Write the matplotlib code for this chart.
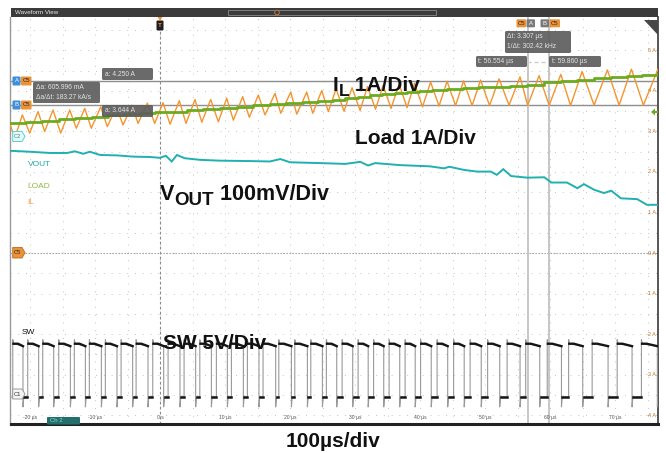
import numpy as np
import matplotlib.pyplot as plt
from matplotlib.patches import Rectangle, FancyBboxPatch, Polygon, Circle
from matplotlib.transforms import IdentityTransform

plt.rcParams['font.family'] = ['Liberation Sans', 'DejaVu Sans']

# ---- data read off the scope capture (time in us) ----
# inductor current: valleys and peaks of the triangle (A)
il_valley_t = [-22.35, -20.05, -17.74, -15.28, -12.88, -10.57, -8.11, -5.69, -3.38, -0.82,
               1.54, 4.00, 6.42, 8.97, 11.28, 13.74, 16.15, 18.57, 21.03, 23.49, 25.89,
               28.31, 30.77, 33.15, 35.54, 38.00, 40.38, 42.92, 45.46, 48.00, 50.69, 53.69,
               56.55, 59.86, 63.15, 66.77, 70.62, 74.35]
il_valley_a = [2.83, 2.96, 3.00, 2.96, 3.08, 3.08, 3.12, 3.16, 3.20, 3.20,
               3.18, 3.20, 3.23, 3.24, 3.28, 3.35, 3.41, 3.45, 3.43, 3.45, 3.49,
               3.50, 3.52, 3.55, 3.57, 3.59, 3.61, 3.63, 3.64, 3.64, 3.64, 3.65,
               3.645, 3.645, 3.64, 3.65, 3.65, 3.65]
il_peak_t = [-21.18, -18.77, -16.46, -13.89, -11.58, -9.12, -6.72, -4.31, -1.95, 0.46,
             2.97, 5.38, 7.80, 10.26, 12.72, 15.12, 17.69, 20.11, 22.57, 24.88,
             27.08, 29.54, 31.92, 34.31, 36.77, 39.15, 41.62, 44.15, 46.69, 49.31,
             52.15, 55.38, 58.31, 61.65, 64.92, 68.82, 72.51, 76.6]
il_peak_a = [3.41, 3.49, 3.53, 3.53, 3.57, 3.61, 3.61, 3.65, 3.70, 3.71,
             3.76, 3.79, 3.79, 3.82, 3.86, 3.90, 3.94, 3.97, 3.97, 4.01,
             4.05, 4.08, 4.11, 4.14, 4.17, 4.19, 4.22, 4.24, 4.25, 4.27,
             4.30, 4.35, 4.38, 4.41, 4.48, 4.52, 4.54, 4.54]
il_start = (-23.0, 3.15)

# load current staircase (A)
load_t = [-23.0, -20.6, -18.2, -15.6, -13.1, -10.5, -8.0, -5.5, -3.1, -0.7, 1.7, 4.1, 6.6,
          9.2, 11.8, 14.3, 16.9, 19.4, 22.0, 24.3, 26.6, 28.5, 30.5, 32.3, 34.2, 36.1,
          38.0, 39.9, 41.8, 44.2, 46.6, 49.0, 51.4, 53.9, 56.5, 59.1, 61.7, 64.2, 66.8,
          69.3, 71.8, 74.2, 76.6]
load_a = [3.20, 3.23, 3.26, 3.30, 3.33, 3.37, 3.41, 3.43, 3.45, 3.47, 3.49, 3.52, 3.55,
          3.58, 3.61, 3.65, 3.68, 3.71, 3.73, 3.76, 3.79, 3.83, 3.86, 3.89, 3.92, 3.95,
          3.97, 4.00, 4.02, 4.05, 4.07, 4.09, 4.11, 4.13, 4.16, 4.21, 4.25, 4.28, 4.31,
          4.35, 4.38, 4.40, 4.41]

# output voltage deviation (mV)
vout_t = [-23.0, -22.6, -20.0, -16.9, -14.3, -13.1, -11.8, -10.8, -9.2, -6.6, -4.2, -1.5,
          0.0, 0.9, 1.8, 2.6, 3.8, 6.2, 9.2, 13.8, 16.9, 18.5, 20.0, 24.6, 28.5, 30.8,
          32.0, 33.1, 36.9, 41.5, 43.7, 44.5, 46.8, 48.8, 50.9, 51.8, 52.8, 54.0, 56.5,
          59.1, 60.2, 62.6, 64.2, 65.2, 66.8, 68.3, 69.4, 70.9, 73.4, 74.9, 76.6]
vout_mv = [0, 0, -2, -5, -5, -1, -7, -2, -10, -11, -14, -15,
           -17, -12, -26, -10, -18, -22, -24, -25, -26, -20, -28, -30, -32, -27,
           -36, -30, -35, -38, -43, -39, -47, -51, -51, -59, -45, -62, -66,
           -65, -78, -78, -92, -82, -96, -104, -98, -117, -119, -133, -133]

# switch node edges (us) and levels (V)
sw_rise = [-22.65, -20.35, -18.04, -15.58, -13.18, -10.87, -8.41, -5.99, -3.68, -1.12,
           1.24, 3.70, 6.12, 8.67, 10.98, 13.44, 15.85, 18.27, 20.73, 23.19, 25.59,
           28.01, 30.47, 32.85, 35.24, 37.70, 40.08, 42.62, 45.16, 47.70, 50.39, 53.39,
           56.25, 59.56, 62.85, 66.47, 70.32, 74.05]
sw_fall = [-21.08, -18.67, -16.36, -13.79, -11.48, -9.02, -6.62, -4.21, -1.85, 0.56,
           3.07, 5.48, 7.90, 10.36, 12.82, 15.22, 17.79, 20.21, 22.67, 24.98,
           27.18, 29.64, 32.02, 34.41, 36.87, 39.25, 41.72, 44.25, 46.79, 49.41,
           52.25, 55.38, 58.41, 61.75, 65.02, 68.92, 72.61, 76.5]
sw_peak_v, sw_high_v, sw_high_end_v, sw_under_v = 7.1, 6.6, 6.3, -1.2

# scope readouts
time_ticks = [-20, -10, 0, 10, 20, 30, 40, 50, 60, 70]
time_labels = ['-20 µs', '-10 µs', '0 s', '10 µs', '20 µs', '30 µs', '40 µs', '50 µs', '60 µs', '70 µs']
amp_ticks = [5, 4, 3, 2, 1, 0, -1, -2, -3, -4]
cursor_a = [4.250, 3.644]
cursor_t = [56.554, 59.860]

W, H = 666, 453
fig = plt.figure(figsize=(W / 100, H / 100), dpi=100)

XL, XR, YT, YB = 10.5, 658, 17, 424
ax = fig.add_axes([XL / W, 1 - YB / H, (XR - XL) / W, (YB - YT) / H])
xlim = (-23.0, 76.6)
ylim = (-4.222, 5.827)   # divisions, C5 scale 1 A/div
ax.set_xlim(*xlim)
ax.set_ylim(*ylim)
ax.set_xticks(np.arange(-20, 76, 5))
ax.set_yticks(np.arange(-4, 5.9, 0.5))
ax.tick_params(length=0, labelbottom=False, labelleft=False)
ax.grid(True, color='#c4c4c4', lw=0.7, ls=(0, (1, 7)))
ax.spines['top'].set_visible(False)
ax.spines['left'].set_color('#9a9a9a')
ax.spines['left'].set_linewidth(1.0)
ax.spines['right'].set_color('#555555')
ax.spines['right'].set_linewidth(1.4)
ax.spines['bottom'].set_color('#222222')
ax.spines['bottom'].set_linewidth(2.2)

# trigger + zero reference
ax.axvline(0, color='#8a8a8a', lw=0.8, ls=(0, (2.5, 2)))
ax.axhline(0, color='#9a9a9a', lw=0.8, ls=(0, (1.2, 1.5)))
# cursors
for a in cursor_a:
    ax.axhline(a, color='#8e8e8e', lw=1.0)
for t in cursor_t:
    ax.axvline(t, color='#c2c2c2', lw=1.3)

for t, lab in zip(time_ticks, time_labels):
    ax.text(t, -4.05, lab, fontsize=3.6, color='#555555', ha='center', va='center')
for a in amp_ticks:
    ax.text(76.3, a, f'{a} A', fontsize=4.0, color='#c0762e', ha='right', va='center')


def twin(per_div, zero_div):
    tw = ax.twinx()
    tw.set_ylim((ylim[0] - zero_div) * per_div, (ylim[1] - zero_div) * per_div)
    tw.set_xlim(*xlim)
    tw.axis('off')
    return tw


# VOUT: 100 mV/div
ax_v = twin(100, 2.52)
ax_v.plot(vout_t, vout_mv, color='#20b0b0', lw=1.4, solid_joinstyle='miter')

# SW: 5 V/div
ax_sw = twin(5, -3.56)
sw_t, sw_v = [xlim[0]], [0.0]
for r, f in zip(sw_rise, sw_fall):
    sw_t += [r, r, r + 0.15, f, f, f + 0.12]
    sw_v += [0.0, sw_peak_v, sw_high_v, sw_high_end_v, sw_under_v, 0.0]
sw_t.append(xlim[1])
sw_v.append(0.0)
ax_sw.plot(sw_t, sw_v, color='#9a9a9a', lw=0.8)
for r, f in zip(sw_rise, sw_fall):
    ax_sw.plot([r + 0.1, r + 0.8, f], [sw_high_v, sw_high_v, sw_high_end_v],
               color='#151515', lw=1.7)
for f, r in zip(sw_fall[:-1], sw_rise[1:]):
    ax_sw.plot([f + 0.15, r - 0.05], [0, 0], color='#151515', lw=1.8)

# IL and LOAD on the A scale
ax_i = twin(1, 0)
il_t = [il_start[0]] + list(np.column_stack([il_valley_t, il_peak_t]).ravel())
il_a = [il_start[1]] + list(np.column_stack([il_valley_a, il_peak_a]).ravel())
ax_i.plot(il_t, il_a, color='#f3952f', lw=1.0)
ax_i.plot(load_t, load_a, color='#6cab1f', lw=2.0, drawstyle='steps-post')

# ---- screen decorations in pixel coords ----
ID = IdentityTransform()


def rbox(x0, y0, x1, y1, fc, ec='none', r=1.5, alpha=1.0, lw=0.6):
    p = FancyBboxPatch((x0, H - y1), x1 - x0, y1 - y0,
                       boxstyle=f'round,pad=0,rounding_size={r}', fc=fc, ec=ec,
                       lw=lw, alpha=alpha, transform=ID, zorder=20)
    fig.add_artist(p)


def ftext(x, y, s, **kw):
    kw.setdefault('zorder', 25)
    return fig.text(x / W, 1 - y / H, s, **kw)


def tag(x0, y0, x1, y1, fc, ec, label, tc):
    ym = (y0 + y1) / 2
    pts = [(x0, H - y0), (x1 - 3, H - y0), (x1, H - ym), (x1 - 3, H - y1), (x0, H - y1)]
    fig.add_artist(Polygon(pts, closed=True, fc=fc, ec=ec, lw=0.7, transform=ID, zorder=20))
    ftext((x0 + x1 - 3) / 2, ym, label, fontsize=4.2, color=tc, ha='center', va='center')


renderer = fig.canvas.get_renderer()


def chain(x, y, parts):
    # parts: (text, fontsize, baseline shift in px)
    for s, size, dy in parts:
        t = ftext(x, y + dy, s, fontsize=size, weight='bold', color='#111111', va='baseline')
        x = t.get_window_extent(renderer).x1


# header bar
fig.add_artist(Rectangle((XL, H - 17), XR - XL, 9, fc='#3b3b3b', ec='none', transform=ID, zorder=20))
ftext(15, 12.6, 'Waveform View', fontsize=4.5, color='#e8e8e8', va='center')
fig.add_artist(Rectangle((228, H - 15), 208, 5, fc='none', ec='#8a8a8a', lw=0.6, transform=ID, zorder=21))
fig.add_artist(Circle((277, H - 12.5), 2.3, fc='#3b3b3b', ec='#c07a3a', lw=0.7, transform=ID, zorder=22))

# magnifier corner
fig.add_artist(Polygon([(644, H - 19.5), (657.5, H - 19.5), (657.5, H - 35)], closed=True,
                       fc='#474747', ec='none', transform=ID, zorder=20))

# trigger marker
fig.add_artist(Polygon([(157.5, H - 17), (162.5, H - 17), (160, H - 20.5)], closed=True,
                       fc='#f0922f', ec='none', transform=ID, zorder=21))
rbox(156.5, 20.5, 163.5, 30.5, '#1e1e1e', r=1.2)
ftext(160, 25.7, 'T', fontsize=4.5, color='#f0922f', ha='center', va='center', weight='bold')

# horizontal cursor tags
for yc, lab in [(81, 'A'), (105, 'B')]:
    rbox(12.5, yc - 4.5, 20.5, yc + 4.5, '#3d8fdc', r=1)
    ftext(16.5, yc, lab, fontsize=4.3, color='white', ha='center', va='center')
    rbox(21, yc - 4.5, 31.5, yc + 4.5, '#ec9236', r=1)
    ftext(26.2, yc, 'C5', fontsize=4.3, color='#2a2a2a', ha='center', va='center')

# vertical cursor tags
rbox(516.5, 19.3, 526, 27.3, '#ec9236', r=1)
ftext(521.2, 23.3, 'C5', fontsize=4.3, color='#2a2a2a', ha='center', va='center')
rbox(526.5, 19.3, 535, 27.3, '#7a7a7a', r=1)
ftext(530.7, 23.3, 'A', fontsize=4.3, color='white', ha='center', va='center')
rbox(540.5, 19.3, 549, 27.3, '#7a7a7a', r=1)
ftext(544.7, 23.3, 'B', fontsize=4.3, color='white', ha='center', va='center')
rbox(549.5, 19.3, 560, 27.3, '#ec9236', r=1)
ftext(554.7, 23.3, 'C5', fontsize=4.3, color='#2a2a2a', ha='center', va='center')

# readout boxes
box_fc = '#5d5d5d'
txt_c = '#e4e4e4'
rbox(102, 68, 153, 80, box_fc, alpha=0.92)
ftext(105, 74, 'a: 4.250 A', fontsize=4.8, color=txt_c, va='center')
rbox(33, 82, 100, 103, box_fc, alpha=0.92)
ftext(35.5, 87.5, 'Δa: 605.996 mA', fontsize=4.8, color=txt_c, va='center')
ftext(35.5, 97.5, 'Δa/Δt: 183.27 kA/s', fontsize=4.8, color=txt_c, va='center')
rbox(102, 105, 153, 117, box_fc, alpha=0.92)
ftext(105, 111, 'a: 3.644 A', fontsize=4.8, color=txt_c, va='center')

rbox(505, 31, 571, 53, box_fc, alpha=0.92)
ftext(507.5, 37, 'Δt: 3.307 µs', fontsize=4.8, color=txt_c, va='center')
ftext(507.5, 47, '1/Δt: 302.42 kHz', fontsize=4.8, color=txt_c, va='center')
rbox(476, 56, 527, 67, box_fc, alpha=0.92)
ftext(478.5, 61.5, 't: 56.554 µs', fontsize=4.8, color=txt_c, va='center')
rbox(549, 56, 601, 67, box_fc, alpha=0.92)
ftext(551.5, 61.5, 't: 59.860 µs', fontsize=4.8, color=txt_c, va='center')
fig.add_artist(plt.Line2D([527, 549], [H - 61.5, H - 61.5], color='#cfcfcf', lw=1.0,
                          ls=(0, (3, 2)), transform=ID, zorder=19))

# channel tags on the left
tag(12.7, 131.5, 25, 141.5, '#e6fafa', '#5fd0d0', 'C2', '#3a8a8a')
tag(12.7, 247.5, 25, 258, '#ec9236', '#c0762e', 'C5', '#2a2a2a')
tag(12.7, 389, 25, 399, '#f4f4f4', '#9a9a9a', 'C1', '#333333')

# load offset arrow on the right
fig.add_artist(Polygon([(651, H - 112), (655, H - 108.5), (655, H - 115.5)], closed=True,
                       fc='#6cab1f', ec='none', transform=ID, zorder=21))
fig.add_artist(Rectangle((654.5, H - 113.2), 3.5, 2.4, fc='#6cab1f', ec='none', transform=ID, zorder=21))

# bottom channel tab
rbox(47, 417, 80, 424.5, '#236f6d', r=1)
ftext(50, 421, 'Ch 2', fontsize=4.3, color='#7fe0dc', va='center')

# trace names
ftext(28, 164, 'VOUT', fontsize=6, color='#1fa8a8', va='center')
ftext(27, 187, 'LOAD', fontsize=6, color='#8dba45', va='center')
ftext(27, 202.5, 'IL', fontsize=6, color='#f0a052', va='center')
ftext(22, 333, 'SW', fontsize=6, color='#111111', va='center')

# big annotations
chain(333, 91, [('I', 15, 0), ('L', 12.5, 4.5), (' 1A/Div', 15, 0)])
chain(355, 144, [('Load 1A/Div', 15, 0)])
chain(160, 200, [('V', 15.5, 0), ('OUT', 13.5, 5), (' 100mV/Div', 15.5, 0)])
chain(163, 349, [('SW 5V/Div', 15, 0)])
ftext(333, 447, '100µs/div', fontsize=15, weight='bold', color='#111111',
      ha='center', va='baseline')

fig.savefig('out.png', dpi=100, facecolor='white')
